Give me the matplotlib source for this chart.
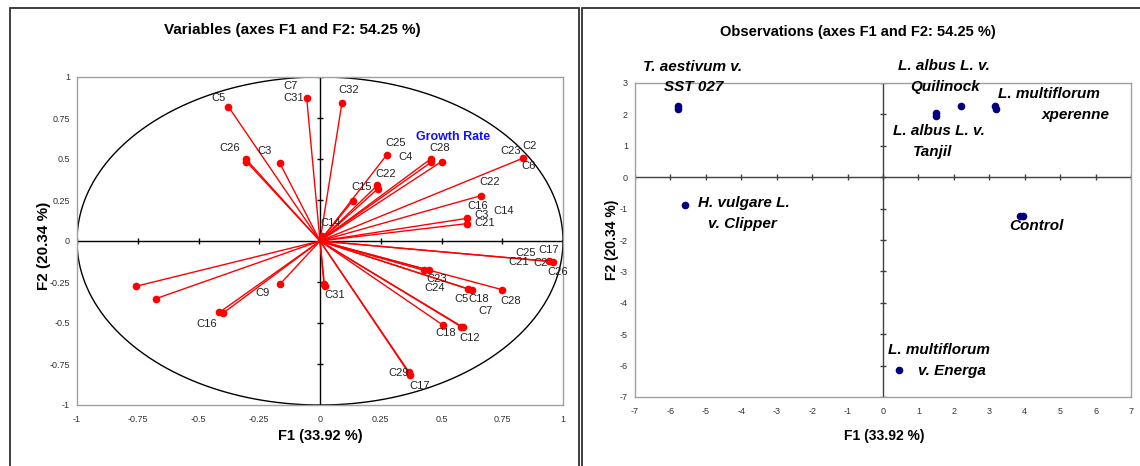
import numpy as np
import matplotlib.pyplot as plt
from matplotlib.patches import Rectangle

plt.rcParams['font.family'] = ['Liberation Sans', 'DejaVu Sans']
plt.rcParams['axes.unicode_minus'] = False

# Loadings of the variables on F1 / F2 (correlation circle)
var_f1 = [-0.377, -0.055, 0.090, -0.305, -0.303, -0.165, 0.134, 0.236, 0.239, 0.274,
          0.455, 0.457, 0.500, 0.837, 0.661, 0.604, 0.604, 0.010, 0.944, 0.958,
          0.428, 0.450, 0.610, 0.624, 0.750, 0.507, 0.580, 0.590, 0.365, 0.370,
          0.016, 0.019, -0.757, -0.676, -0.165, -0.414, -0.398]
var_f2 = [0.819, 0.874, 0.840, 0.500, 0.484, 0.474, 0.244, 0.340, 0.320, 0.524,
          0.500, 0.480, 0.484, 0.506, 0.276, 0.138, 0.106, 0.030, -0.124, -0.126,
          -0.179, -0.179, -0.293, -0.299, -0.297, -0.514, -0.522, -0.527, -0.797, -0.815,
          -0.260, -0.276, -0.276, -0.352, -0.264, -0.435, -0.439]

# variable names and where they are written
var_labels = [
    ("C5", -0.418, 0.872), ("C7", -0.12, 0.947), ("C31", -0.11, 0.872),
    ("C32", 0.12, 0.92), ("C26", -0.37, 0.565), ("C3", -0.23, 0.55),
    ("C15", 0.17, 0.33), ("C22", 0.27, 0.41), ("C25", 0.31, 0.60), ("C4", 0.353, 0.51),
    ("C28", 0.494, 0.565), ("C23", 0.785, 0.547), ("C2", 0.864, 0.577), ("C6", 0.859, 0.455),
    ("C22", 0.70, 0.358), ("C16", 0.649, 0.215), ("C3", 0.663, 0.16), ("C14", 0.757, 0.185),
    ("C21", 0.676, 0.11), ("C14", 0.044, 0.11),
    ("C25", 0.848, -0.075), ("C17", 0.94, -0.055), ("C21", 0.819, -0.126),
    ("C2", 0.908, -0.136), ("C26", 0.98, -0.19),
    ("C23", 0.48, -0.232), ("C24", 0.472, -0.289),
    ("C5", 0.583, -0.354), ("C18", 0.654, -0.354), ("C7", 0.683, -0.425),
    ("C28", 0.785, -0.364), ("C18", 0.516, -0.563), ("C12", 0.617, -0.59),
    ("C29", 0.322, -0.807), ("C17", 0.41, -0.886), ("C31", 0.062, -0.33),
    ("C9", -0.237, -0.319), ("C16", -0.466, -0.506),
]

# Observation scores on F1 / F2
obs_f1 = [-5.80, -5.78, 1.50, 1.51, 2.21, 3.16, 3.18, -5.60, 3.86, 3.96, 0.46]
obs_f2 = [2.27, 2.16, 2.03, 1.94, 2.28, 2.27, 2.16, -0.90, -1.23, -1.25, -6.15]

# observation names (left edge of each line)
obs_labels = [
    ("T. aestivum v.", -6.77, 3.52), ("SST 027", -6.18, 2.86),
    ("L. albus L. v.", 0.42, 3.54), ("Quilinock", 0.76, 2.87),
    ("L. multiflorum", 3.25, 2.65), ("xperenne", 4.49, 1.98),
    ("L. albus L. v.", 0.28, 1.47), ("Tanjil", 0.85, 0.80),
    ("H. vulgare L.", -5.22, -0.82), ("v. Clipper", -4.94, -1.49),
    ("Control", 3.56, -1.55),
    ("L. multiflorum", 0.15, -5.50), ("v. Energa", 1.0, -6.17),
]

var_ticks = [-1, -0.75, -0.5, -0.25, 0, 0.25, 0.5, 0.75, 1]
var_ticklabels = ["-1", "-0.75", "-0.5", "-0.25", "0", "0.25", "0.5", "0.75", "1"]
obs_xticks = list(range(-7, 8))
obs_yticks = list(range(-7, 4))

fig = plt.figure(figsize=(11.4, 4.66), dpi=100)

# panel frames
fig.add_artist(Rectangle((10 / 1140, -0.02), 569 / 1140, 1.003, transform=fig.transFigure,
                         fill=False, edgecolor='#303030', linewidth=1.3))
fig.add_artist(Rectangle((582 / 1140, -0.02), 0.5, 1.003, transform=fig.transFigure,
                         fill=False, edgecolor='#303030', linewidth=1.3))

# ---- Variables (correlation circle) ----
ax1 = fig.add_axes([77 / 1140, 61 / 466, 486 / 1140, 328 / 466])
ax1.set_xlim(-1, 1)
ax1.set_ylim(-1, 1)
for s in ax1.spines.values():
    s.set_color('#a0a0a0')
    s.set_linewidth(1)
ax1.axhline(0, color='black', lw=1)
ax1.axvline(0, color='black', lw=1)
ax1.plot(var_ticks, [0] * len(var_ticks), ls='none', marker='|', ms=5, color='black', mew=1)
ax1.plot([0] * len(var_ticks), var_ticks, ls='none', marker='_', ms=5, color='black', mew=1)

theta = np.linspace(0, 2 * np.pi, 400)
ax1.plot(np.cos(theta), np.sin(theta), color='black', lw=1)

for x, y in zip(var_f1, var_f2):
    ax1.plot([0, x], [0, y], color='red', lw=1)
ax1.plot(var_f1, var_f2, ls='none', marker='o', ms=4.5, color='red')

for txt, x, y in var_labels:
    ax1.text(x, y, txt, ha='center', va='center', fontsize=8, color='#222222')
ax1.text(0.547, 0.632, "Growth Rate", ha='center', va='center', fontsize=9,
         color='#1010ff', fontweight='bold')

ax1.set_xticks(var_ticks)
ax1.set_xticklabels(var_ticklabels)
ax1.set_yticks(var_ticks)
ax1.set_yticklabels(var_ticklabels)
ax1.tick_params(length=0, labelsize=6.5, labelcolor='#333333', pad=7)
ax1.tick_params(axis='y', pad=5)

# ---- Observations ----
ax2 = fig.add_axes([635 / 1140, 69 / 466, 496 / 1140, 314 / 466])
ax2.set_xlim(-7, 7)
ax2.set_ylim(-7, 3)
for s in ax2.spines.values():
    s.set_color('#a0a0a0')
    s.set_linewidth(1)
ax2.axhline(0, color='#404040', lw=1)
ax2.axvline(0, color='#404040', lw=1)
ax2.plot(obs_xticks, [0] * len(obs_xticks), ls='none', marker='|', ms=5, color='#404040', mew=1)
ax2.plot([0] * len(obs_yticks), obs_yticks, ls='none', marker='_', ms=5, color='#404040', mew=1)

ax2.plot(obs_f1, obs_f2, ls='none', marker='o', ms=4.5, color='#000080')

for txt, x, y in obs_labels:
    ax2.text(x, y, txt, ha='left', va='center', fontsize=11, fontweight='bold',
             fontstyle='italic', color='black', clip_on=False)

ax2.set_xticks(obs_xticks)
ax2.set_yticks(obs_yticks)
ax2.tick_params(length=0, labelsize=6.5, labelcolor='#333333', pad=7)
ax2.tick_params(axis='y', pad=5)

# titles and axis labels
fig.text(292 / 1140, 0.936, "Variables (axes F1 and F2: 54.25 %)", ha='center', va='center',
         fontsize=11, fontweight='bold')
fig.text(858 / 1140, 0.931, "Observations (axes F1 and F2: 54.25 %)", ha='center', va='center',
         fontsize=10.5, fontweight='bold')
fig.text(320 / 1140, 30 / 466, "F1 (33.92 %)", ha='center', va='center',
         fontsize=10.5, fontweight='bold')
fig.text(884 / 1140, 30 / 466, "F1 (33.92 %)", ha='center', va='center',
         fontsize=10, fontweight='bold')
fig.text(44 / 1140, 220 / 466, "F2 (20.34 %)", ha='center', va='center', rotation=90,
         fontsize=11, fontweight='bold')
fig.text(612 / 1140, 226 / 466, "F2 (20.34 %)", ha='center', va='center', rotation=90,
         fontsize=10, fontweight='bold')

plt.savefig("out.png", dpi=100)
